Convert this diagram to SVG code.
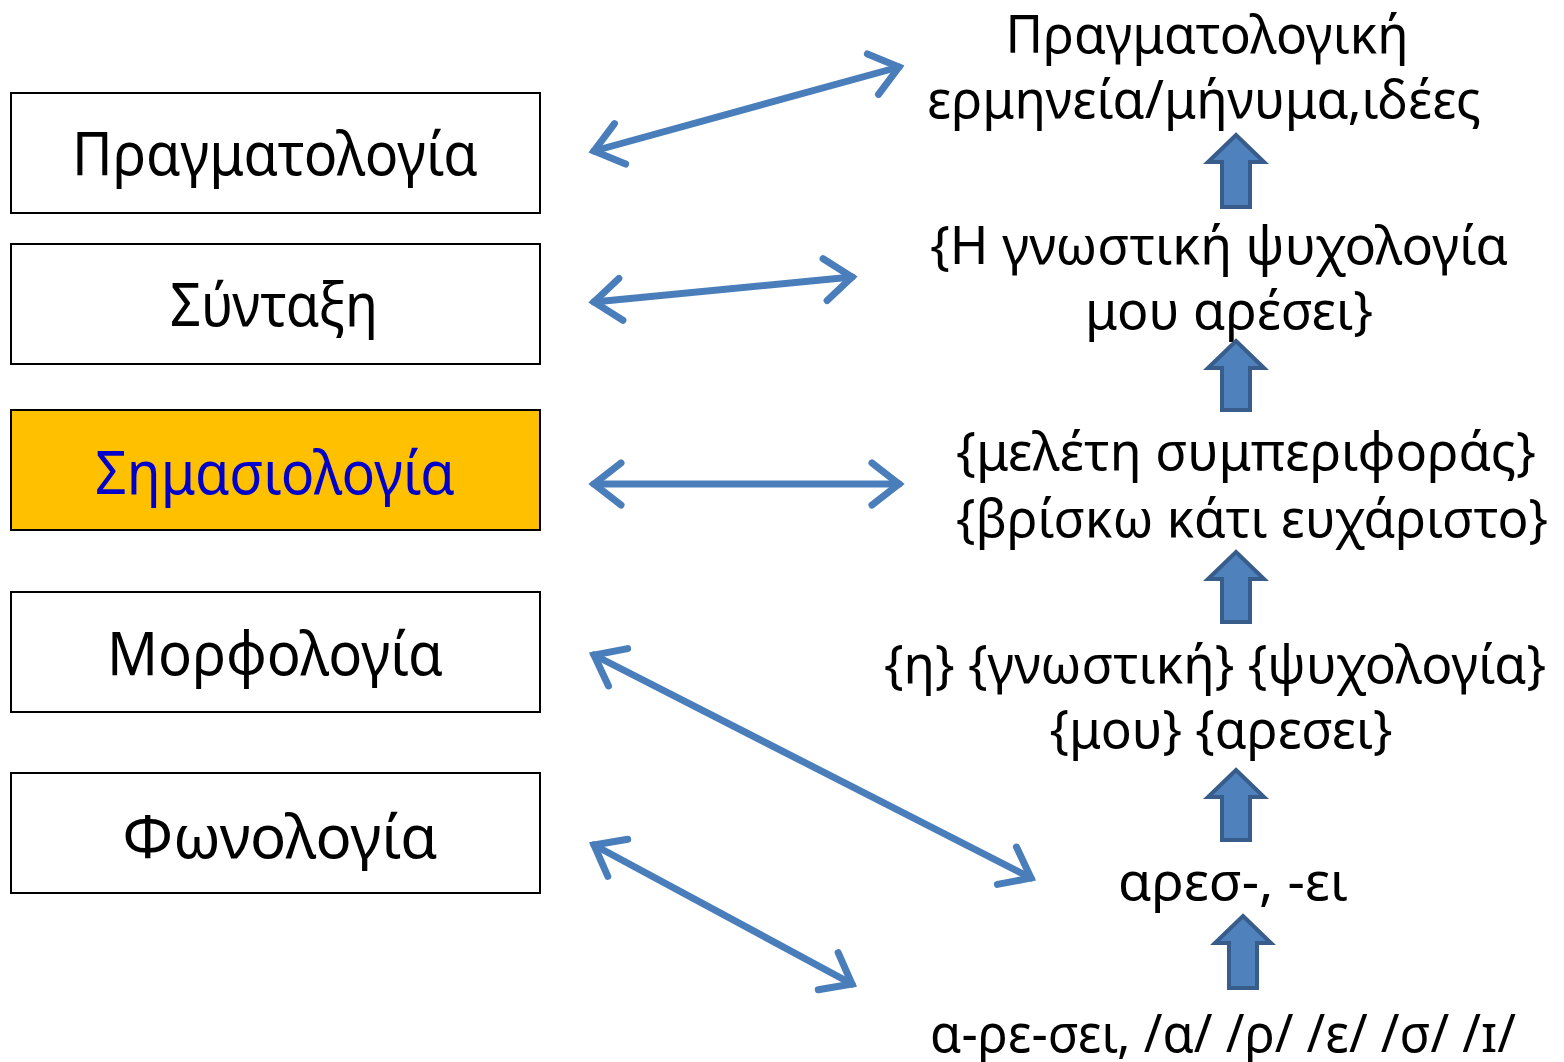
<svg xmlns="http://www.w3.org/2000/svg" width="1564" height="1062" viewBox="0 0 1564 1062">
<defs>
<style>
.box{fill:#FFFFFF;stroke:#000000;stroke-width:2}
.hl{fill:#FFC000;stroke:#000000;stroke-width:2}
.t{font-family:"Noto Sans","Open Sans","DejaVu Sans",sans-serif;fill:#000000;text-anchor:middle}
.bt{font-size:60px}
.rt{font-size:53px}
.blue{fill:#0000CC}
.con{stroke:#4A7EBB;stroke-width:7;fill:none;stroke-linecap:round}
.up{fill:#4F81BD;stroke:#385D8A;stroke-width:4}
</style>
<marker id="ah" markerUnits="userSpaceOnUse" orient="auto-start-reverse" markerWidth="60" markerHeight="60" refX="0" refY="0" viewBox="-40 -30 60 60" overflow="visible">
<path d="M -27 -21 L 0 0 L -27 21" fill="none" stroke="#4A7EBB" stroke-width="7" stroke-linecap="round" stroke-linejoin="miter"/>
</marker>
</defs>
<rect width="1564" height="1062" fill="#FFFFFF"/>

<g id="n-pragmatologia">
<rect class="box" x="11" y="93" width="529" height="120"/>
<text class="t bt" x="275" y="175" textLength="406" lengthAdjust="spacingAndGlyphs">Πραγματολογία</text>
</g>
<g id="n-syntaxi">
<rect class="box" x="11" y="244" width="529" height="120"/>
<text class="t bt" x="274" y="326" textLength="208" lengthAdjust="spacingAndGlyphs">Σύνταξη</text>
</g>
<g id="n-simasiologia">
<rect class="hl" x="11" y="410" width="529" height="120"/>
<text class="t bt blue" x="275" y="494" textLength="360" lengthAdjust="spacingAndGlyphs">Σημασιολογία</text>
</g>
<g id="n-morfologia">
<rect class="box" x="11" y="592" width="529" height="120"/>
<text class="t bt" x="275" y="675" textLength="336" lengthAdjust="spacingAndGlyphs">Μορφολογία</text>
</g>
<g id="n-fonologia">
<rect class="box" x="11" y="773" width="529" height="120"/>
<text class="t bt" x="280" y="858" textLength="315" lengthAdjust="spacingAndGlyphs">Φωνολογία</text>
</g>

<g id="r-pragm">
<text class="t rt" x="1207" y="53" textLength="403" lengthAdjust="spacingAndGlyphs">Πραγματολογική</text>
<text class="t rt" x="1204" y="118" textLength="554" lengthAdjust="spacingAndGlyphs">ερμηνεία/μήνυμα,ιδέες</text>
</g>
<g id="r-synt">
<text class="t rt" x="1219" y="264" textLength="578" lengthAdjust="spacingAndGlyphs">{Η γνωστική ψυχολογία</text>
<text class="t rt" x="1229" y="329" textLength="288" lengthAdjust="spacingAndGlyphs">μου αρέσει}</text>
</g>
<g id="r-sim">
<text class="t rt" x="1246" y="470" textLength="580" lengthAdjust="spacingAndGlyphs">{μελέτη συμπεριφοράς}</text>
<text class="t rt" x="1252" y="537" textLength="592" lengthAdjust="spacingAndGlyphs">{βρίσκω κάτι ευχάριστο}</text>
</g>
<g id="r-morf">
<text class="t rt" x="1215" y="683" textLength="662" lengthAdjust="spacingAndGlyphs">{η} {γνωστική} {ψυχολογία}</text>
<text class="t rt" x="1221" y="748" textLength="343" lengthAdjust="spacingAndGlyphs">{μου} {αρεσει}</text>
</g>
<g id="r-morfima">
<text class="t rt" x="1233" y="900" textLength="230" lengthAdjust="spacingAndGlyphs">αρεσ-, -ει</text>
</g>
<g id="r-fon">
<text class="t rt" x="1223" y="1052" textLength="586" lengthAdjust="spacingAndGlyphs">α-ρε-σει, /α/ /ρ/ /ε/ /σ/ /ɪ/</text>
</g>

<g id="connectors">
<line class="con" x1="594" y1="151" x2="899" y2="67" marker-start="url(#ah)" marker-end="url(#ah)"/>
<line class="con" x1="594" y1="302" x2="852" y2="277" marker-start="url(#ah)" marker-end="url(#ah)"/>
<line class="con" x1="594" y1="484" x2="899" y2="484" marker-start="url(#ah)" marker-end="url(#ah)"/>
<line class="con" x1="594" y1="655" x2="1031" y2="878" marker-start="url(#ah)" marker-end="url(#ah)"/>
<line class="con" x1="594" y1="845" x2="852" y2="984" marker-start="url(#ah)" marker-end="url(#ah)"/>
</g>

<g id="up-arrows">
<path class="up" d="M1236 135 L1264 162 L1250 162 L1250 207 L1222 207 L1222 162 L1208 162 Z"/>
<path class="up" d="M1236 341 L1264 368 L1250 368 L1250 410 L1222 410 L1222 368 L1208 368 Z"/>
<path class="up" d="M1236 552 L1264 579 L1250 579 L1250 622 L1222 622 L1222 579 L1208 579 Z"/>
<path class="up" d="M1236 770 L1264 797 L1250 797 L1250 840 L1222 840 L1222 797 L1208 797 Z"/>
<path class="up" d="M1243 916 L1271 943 L1257 943 L1257 988 L1229 988 L1229 943 L1215 943 Z"/>
</g>
</svg>
